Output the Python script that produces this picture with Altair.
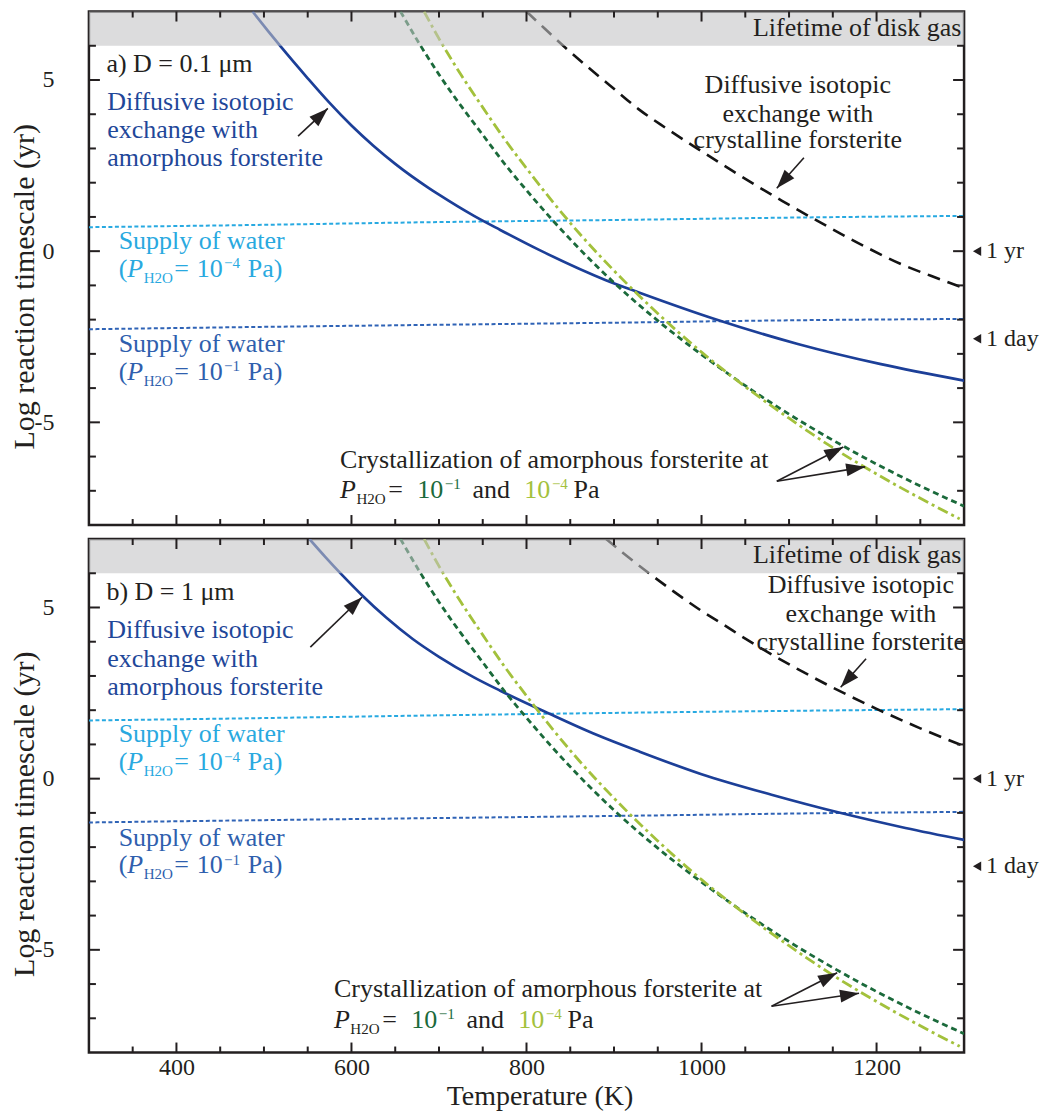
import math
import altair as alt
import pandas as pd

# ---------------- values ----------------
T_RANGE = [300, 1300]            # temperature (K)
LOG_T_RANGE = [-8, 7]            # log reaction timescale (yr)
GAS_LIFETIME_LOG = [6, 7]        # shaded "lifetime of disk gas" band

X_TICK_LABELS = [400, 600, 800, 1000, 1200]
X_MINOR_TICKS = [350, 450, 500, 550, 650, 700, 750, 850, 900, 950, 1050, 1100, 1150, 1250]
Y_TICK_LABELS = [-5, 0, 5]
Y_MINOR_TICKS = [-7, -6, -4, -3, -2, -1, 1, 2, 3, 4, 6]

# supply of water (dotted)
T_WATER = [300, 474, 700, 929, 1100, 1300]
A_WATER_4 = [0.70, 0.76, 0.85, 0.92, 0.98, 1.03]
A_WATER_1 = [-2.28, -2.22, -2.15, -2.08, -2.02, -1.98]
B_WATER_4 = [1.70, 1.76, 1.85, 1.93, 1.98, 2.03]
B_WATER_1 = [-1.28, -1.22, -1.15, -1.08, -1.02, -0.97]

# diffusive isotopic exchange with amorphous forsterite (solid)
A_AMOR_T = [487, 505, 520, 550, 575, 600, 625, 650, 688, 700, 740, 770, 815, 890, 930, 1015, 1110, 1205, 1300]
A_AMOR_Y = [7.0, 6.42, 5.95, 5.05, 4.33, 3.67, 3.08, 2.55, 1.85, 1.65, 1.03, 0.62, 0.03, -0.84, -1.22, -1.98, -2.71, -3.30, -3.78]
B_AMOR_T = [552, 570, 590, 612, 640, 670, 700, 740, 770, 825, 880, 930, 1000, 1080, 1157, 1233, 1300]
B_AMOR_Y = [7.0, 6.48, 5.93, 5.36, 4.70, 4.08, 3.56, 2.96, 2.57, 1.91, 1.28, 0.78, 0.13, -0.47, -0.99, -1.44, -1.79]

# diffusive isotopic exchange with crystalline forsterite (dashed)
A_CRYS_T = [800, 815, 842, 870, 895, 928, 959, 1000, 1035, 1092, 1130, 1187, 1230, 1262, 1300]
A_CRYS_Y = [7.0, 6.64, 6.0, 5.38, 4.85, 4.15, 3.6, 2.92, 2.35, 1.47, 0.92, 0.13, -0.4, -0.72, -1.08]
B_CRYS_T = [891, 910, 940, 968, 1000, 1025, 1050, 1082, 1110, 1150, 1200, 1250, 1300]
B_CRYS_Y = [7.0, 6.6, 6.0, 5.47, 4.9, 4.5, 4.09, 3.6, 3.2, 2.66, 2.04, 1.47, 0.95]

# crystallization of amorphous forsterite (same in both panels)
XTAL_1_T = [656, 680, 700, 725, 750, 775, 800, 830, 860, 900, 950, 1000, 1050, 1100, 1150, 1200, 1250, 1300]
XTAL_1_Y = [7.0, 5.96, 5.16, 4.25, 3.4, 2.55, 1.78, 0.9, 0.08, -0.92, -2.03, -3.02, -3.93, -4.76, -5.52, -6.22, -6.86, -7.45]
XTAL_4_T = [683, 700, 725, 750, 775, 800, 830, 860, 900, 950, 1000, 1050, 1100, 1150, 1200, 1250, 1295]
XTAL_4_Y = [7.0, 6.21, 5.16, 4.2, 3.27, 2.42, 1.44, 0.53, -0.57, -1.82, -2.95, -3.96, -4.88, -5.74, -6.51, -7.22, -7.82]

YEAR_MARKS = [0.0, -2.56]
YEAR_MARK_TEXT = ["1 yr", "1 day"]

# ---------------- style / layout ----------------
FONT = "Liberation Serif"
TXT = "#231f20"
BLUE = "#1c3f98"
BLUE_TXT = "#1f4799"
BLACK = "#141414"
CYAN = "#27a9e1"
CYAN_TXT = "#29a9df"
BLUE_DOT = "#2f63b6"
BLUE_DOT_TXT = "#2f5fae"
GREEN = "#1b6a3b"
YGREEN = "#a3c13c"
GRAY = "#c2c3c4"

W, H = 876, 514
PXX = W / (T_RANGE[1] - T_RANGE[0])
PXY = H / (LOG_T_RANGE[1] - LOG_T_RANGE[0])
FS = 26
SCRIPT = 0.58

XS = alt.Scale(domain=T_RANGE, nice=False, zero=False)
YS = alt.Scale(domain=LOG_T_RANGE, nice=False, zero=False)

ARROW_PATH = "M0,0L-0.75,2.2L0.75,2.2Z"

TIMES_W = {" ": 0.25, "(": 0.333, ")": 0.333, "=": 0.564, "\u2212": 0.564, "P": 0.556,
           "H": 0.722, "O": 0.722, "a": 0.444, "n": 0.5, "d": 0.5}

Y_AXIS = alt.Axis(values=Y_TICK_LABELS,
                  labelExpr="datum.value < 0 ? '-' + format(-datum.value, 'd') : format(datum.value, 'd')",
                  ticks=False, tickSize=0, domain=False, grid=False, labelFont=FONT,
                  labelFontSize=24, labelColor=TXT, labelPadding=35,
                  title="Log reaction timescale (yr)", titleFont=FONT, titleFontSize=30,
                  titleFontWeight="normal", titleColor=TXT, titleAngle=270,
                  titleBaseline="middle", titleAlign="center", titleX=-64, titleY=H / 2 + 18)
X_AXIS_B = alt.Axis(values=X_TICK_LABELS, format="d", ticks=False, tickSize=0, domain=False,
                    grid=False, labelFont=FONT, labelFontSize=24, labelColor=TXT,
                    labelPadding=3, title="Temperature (K)", titleFont=FONT,
                    titleFontSize=28, titleFontWeight="normal", titleColor=TXT,
                    titlePadding=3, titleX=W / 2 + 13)
X_AXES = {"a": None, "b": X_AXIS_B}


def text_w(s, italic=False):
    tot = 0.0
    for ch in s:
        if ch.isdigit():
            tot += 0.5
        elif italic and ch == "P":
            tot += 0.611
        else:
            tot += TIMES_W.get(ch, 0.5)
    return tot


def xenc(p, field="T"):
    return alt.X(f"{field}:Q", scale=XS, axis=X_AXES[p])


def yenc(p, field="y"):
    return alt.Y(f"{field}:Q", scale=YS, axis=Y_AXIS)


def simple_rows(T0, ys, lines, color, align="left", fs=FS):
    return [{"T": T0, "y": y, "text": t, "color": color, "size": fs, "italic": False,
             "align": align, "baseline": "middle"} for y, t in zip(ys, lines)]


def rich_rows(T0, yc, segs, fs=FS):
    rows = []
    cur = 0.0
    for text, kind, color, gap in segs:
        cur += gap * fs
        size = fs * SCRIPT if kind in ("sub", "sup") else fs
        shift = 0.22 * fs if kind == "sub" else (-0.34 * fs if kind == "sup" else 0.0)
        base_px = 0.30 * fs + shift
        rows.append({"T": T0 + cur / PXX, "y": yc - base_px / PXY, "text": text, "color": color,
                     "size": size, "italic": kind == "i", "align": "left", "baseline": "alphabetic"})
        cur += text_w(text, italic=(kind == "i")) * size
    return rows


def line_layer(p, T, Y, color, dash=None, width=2.6):
    df = pd.DataFrame({"T": T, "y": Y})
    kw = dict(color=color, strokeWidth=width, clip=True, interpolate="monotone")
    if dash:
        kw["strokeDash"] = dash
    return alt.Chart(df).mark_line(**kw).encode(x=xenc(p), y=yenc(p))


def tick_layers(p):
    layers = []
    for vals, ln in ((X_TICK_LABELS, 10), (X_MINOR_TICKS, 6)):
        df = pd.DataFrame({"T": vals})
        base = alt.Chart(df).mark_rule(color=TXT, strokeWidth=2)
        layers.append(base.encode(x=xenc(p), y=alt.value(0), y2=alt.value(ln)))
        layers.append(base.encode(x=xenc(p), y=alt.value(H), y2=alt.value(H - ln)))
    for vals, ln in ((Y_TICK_LABELS, 11), (Y_MINOR_TICKS, 7)):
        df = pd.DataFrame({"y": vals})
        base = alt.Chart(df).mark_rule(color=TXT, strokeWidth=2)
        layers.append(base.encode(y=yenc(p), x=alt.value(0), x2=alt.value(ln)))
        layers.append(base.encode(y=yenc(p), x=alt.value(W), x2=alt.value(W - ln)))
    return layers


def arrow_layers(p, arrows):
    rows = []
    for t0, y0, t1, y1 in arrows:
        dx = (t1 - t0) * PXX
        dy = (y1 - y0) * PXY
        ang = math.degrees(math.atan2(dx, dy)) % 360
        rows.append({"T0": t0, "y0": y0, "T1": t1, "y1": y1, "angle": ang})
    df = pd.DataFrame(rows)
    shaft = alt.Chart(df).mark_rule(color=TXT, strokeWidth=1.6).encode(
        x=xenc(p, "T0"), y=yenc(p, "y0"), x2="T1:Q", y2="y1:Q")
    head = alt.Chart(df).mark_point(shape=ARROW_PATH, filled=True, size=300, color=TXT,
                                    opacity=1, strokeWidth=0).encode(
        x=xenc(p, "T1"), y=yenc(p, "y1"), angle=alt.Angle("angle:Q", scale=None))
    return [shaft, head]


def text_layers(p, rows):
    df = pd.DataFrame(rows)
    layers = []
    for (align, italic, baseline), g in df.groupby(["align", "italic", "baseline"]):
        layers.append(
            alt.Chart(g.drop(columns=["align", "italic", "baseline"])).mark_text(
                font=FONT, align=align, baseline=baseline,
                fontStyle="italic" if italic else "normal").encode(
                x=xenc(p), y=yenc(p), text="text:N",
                color=alt.Color("color:N", scale=None),
                size=alt.Size("size:Q", scale=None)))
    return layers


PANELS = {
    "a": dict(
        water4=A_WATER_4, water1=A_WATER_1,
        amor=(A_AMOR_T, A_AMOR_Y), crys=(A_CRYS_T, A_CRYS_Y),
        tag=(320, 5.47, "a) D = 0.1 \u03bcm"),
        amor_lab=(321, [4.35, 3.53, 2.71]),
        amor_arrow=(539, 3.36, 573, 4.17),
        crys_lab=(1110, [4.85, 4.02, 3.24]),
        crys_arrow=(1117, 2.73, 1086, 1.84),
        w4_lab=(334, [0.29, -0.53]),
        w1_lab=(334, [-2.71, -3.53]),
        xtal_lab=(587, [-6.11, -6.98]),
        xtal_arrows=[(1086, -6.72, 1162, -5.72), (1086, -6.72, 1187, -6.30)],
    ),
    "b": dict(
        water4=B_WATER_4, water1=B_WATER_1,
        amor=(B_AMOR_T, B_AMOR_Y), crys=(B_CRYS_T, B_CRYS_Y),
        tag=(320, 5.45, "b) D = 1 \u03bcm"),
        amor_lab=(321, [4.33, 3.50, 2.68]),
        amor_arrow=(553, 3.84, 612, 5.3),
        crys_lab=(1182, [5.66, 4.82, 3.99]),
        crys_arrow=(1188, 3.5, 1159, 2.67),
        w4_lab=(334, [1.29, 0.47]),
        w1_lab=(334, [-1.72, -2.54]),
        xtal_lab=(580, [-6.14, -7.06]),
        xtal_arrows=[(1080, -6.65, 1155, -5.67), (1080, -6.65, 1180, -6.27)],
    ),
}


def water_label(T0, ys, color, exp):
    rows = simple_rows(T0, [ys[0]], ["Supply of water"], color)
    rows += rich_rows(T0, ys[1], [("(", "n", color, 0), ("P", "i", color, 0),
                                  ("H2O", "sub", color, 0.02), ("=", "n", color, 0.05),
                                  ("10", "n", color, 0.3), (exp, "sup", color, 0.05),
                                  ("Pa)", "n", color, 0.3)])
    return rows


def make_panel(p):
    c = PANELS[p]
    layers = [
        line_layer(p, T_WATER, c["water4"], CYAN, dash=[4, 2.5], width=2.0),
        line_layer(p, T_WATER, c["water1"], BLUE_DOT, dash=[4, 2.5], width=2.0),
        line_layer(p, *c["amor"], BLUE, width=2.7),
        line_layer(p, *c["crys"], BLACK, dash=[13, 8], width=2.6),
        line_layer(p, XTAL_1_T, XTAL_1_Y, GREEN, dash=[6, 4], width=2.8),
        line_layer(p, XTAL_4_T, XTAL_4_Y, YGREEN, dash=[11, 4, 3, 4], width=2.8),
    ]
    band = pd.DataFrame({"T0": [T_RANGE[0]], "T1": [T_RANGE[1]],
                         "y0": [GAS_LIFETIME_LOG[0]], "y1": [GAS_LIFETIME_LOG[1]]})
    layers.append(alt.Chart(band).mark_rect(color=GRAY, opacity=0.58).encode(
        x=xenc(p, "T0"), x2="T1:Q", y=yenc(p, "y0"), y2="y1:Q"))
    layers += tick_layers(p)
    layers += arrow_layers(p, [c["amor_arrow"], c["crys_arrow"]] + c["xtal_arrows"])

    rows = []
    tx, ty, tt = c["tag"]
    rows += simple_rows(tx, [ty], [tt], TXT)
    rows += simple_rows(c["amor_lab"][0], c["amor_lab"][1],
                        ["Diffusive isotopic", "exchange with", "amorphous forsterite"], BLUE_TXT)
    rows += simple_rows(c["crys_lab"][0], c["crys_lab"][1],
                        ["Diffusive isotopic", "exchange with", "crystalline forsterite"], TXT,
                        align="center")
    rows += water_label(c["w4_lab"][0], c["w4_lab"][1], CYAN_TXT, "\u22124")
    rows += water_label(c["w1_lab"][0], c["w1_lab"][1], BLUE_DOT_TXT, "\u22121")
    xt, xys = c["xtal_lab"]
    rows += simple_rows(xt, [xys[0]], ["Crystallization of amorphous forsterite at"], TXT)
    rows += rich_rows(xt, xys[1], [("P", "i", TXT, 0), ("H2O", "sub", TXT, 0.02),
                                   ("=", "n", TXT, 0.1), ("10", "n", GREEN, 0.55),
                                   ("\u22121", "sup", GREEN, 0.06), ("and", "n", TXT, 0.45),
                                   ("10", "n", YGREEN, 0.55), ("\u22124", "sup", YGREEN, 0.06),
                                   ("Pa", "n", TXT, 0.22)])
    rows += simple_rows(T_RANGE[1] - 3, [6.52], ["Lifetime of disk gas"], TXT, align="right")
    layers += text_layers(p, rows)

    marks = pd.DataFrame({"T": [T_RANGE[1]] * len(YEAR_MARKS), "y": YEAR_MARKS, "text": YEAR_MARK_TEXT})
    layers.append(alt.Chart(marks).mark_point(shape="triangle-left", filled=True, size=90, color=TXT,
                                              opacity=1, xOffset=13).encode(x=xenc(p), y=yenc(p)))
    layers.append(alt.Chart(marks).mark_text(font=FONT, fontSize=24, align="left", baseline="middle",
                                             dx=22, color=TXT).encode(x=xenc(p), y=yenc(p), text="text:N"))
    return alt.layer(*layers).properties(width=W, height=H)


chart = alt.vconcat(make_panel("a"), make_panel("b"), spacing=8).properties(
    padding={"left": 0, "top": 0, "right": 0, "bottom": 0}
).configure(background="white").configure_view(stroke=TXT, strokeWidth=2.5, fill="white")

chart.save("out.html", embed_options={"renderer": "svg", "actions": False})
